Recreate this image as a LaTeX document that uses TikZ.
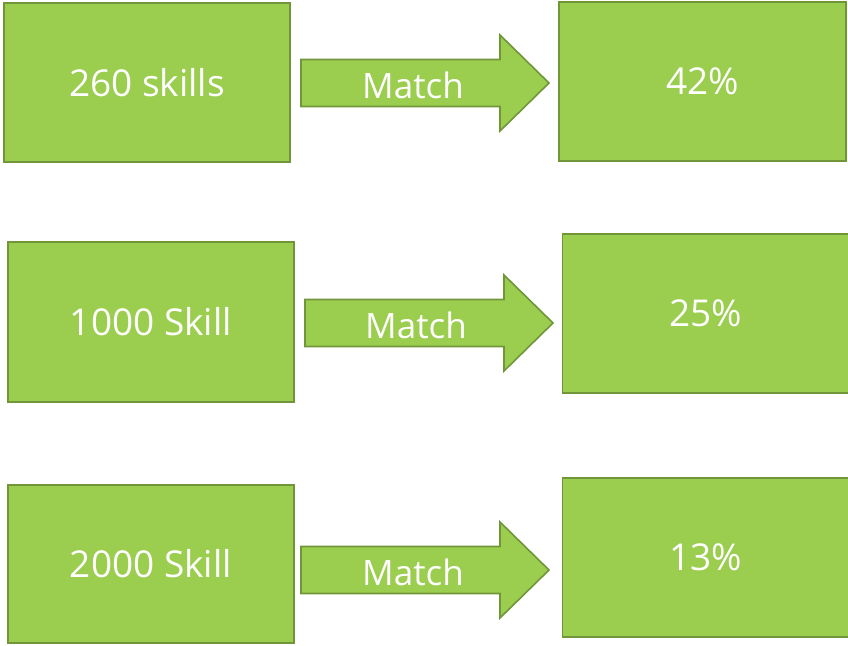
\documentclass[tikz,border=0pt]{standalone}
\usepackage{fontspec}
\setmainfont{Open Sans}
\usetikzlibrary{positioning}
\definecolor{leafgreen}{RGB}{155,205,79}
\definecolor{leafedge}{RGB}{113,150,58}

\begin{document}
\begin{tikzpicture}[x=1pt, y=-1pt]
    \tikzstyle{skillbox}=[draw=leafedge, fill=leafgreen, line width=1.6pt,
                      minimum width=286pt, minimum height=159pt, inner sep=0pt,
                      text=white, font=\fontsize{37}{40}\selectfont]
    \tikzstyle{matcharrow}=[draw=leafedge, fill=leafgreen, line width=1.6pt, line join=miter]
    \tikzstyle{matchtext}=[text=white, inner sep=0pt, font=\fontsize{35}{38}\selectfont]
    \useasboundingbox (0,0) rectangle (848,645);
    % Skill boxes on the left
    \node[skillbox] (s1) at (147,82.5) {260 skills};
    \node[skillbox, minimum height=160pt] (s2) at (151,322) {1000 Skill};
    \node[skillbox, minimum height=158pt] (s3) at (151,564) {2000 Skill};
    % Result boxes on the right
    \node[skillbox, minimum width=287pt] (r1) at (702.5,81.5) {42\%};
    \node[skillbox, minimum width=287pt] (r2) at (706,313.5) {25\%};
    \node[skillbox, minimum width=287pt] (r3) at (706,557.5) {13\%};
    % Block arrows
    \foreach \ax/\ay in {301/83, 305/323, 301/570}
        \draw[matcharrow] (\ax,\ay-23.5) -- ++(199,0) -- ++(0,-24.5) -- ++(49,48)
            -- ++(-49,48) -- ++(0,-24.5) -- ++(-199,0) -- cycle;
    \foreach \tx/\ty/\i in {413/85/1, 416/325/2, 413/572/3}
        \node[matchtext] (m\i) at (\tx,\ty) {Match};
\end{tikzpicture}
\end{document}
